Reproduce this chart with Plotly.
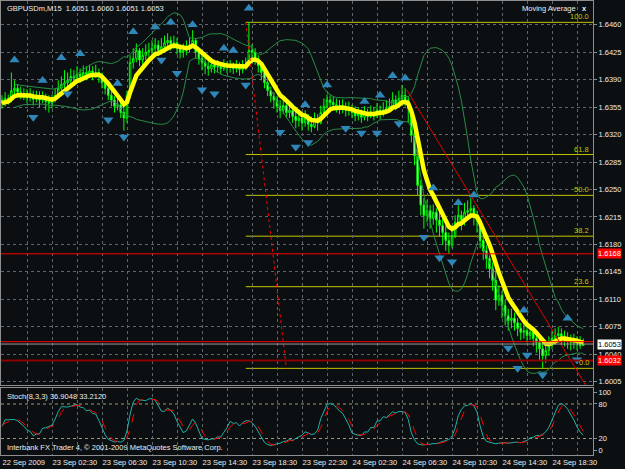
import pandas as pd
import plotly.graph_objects as go

# ---------------- data ----------------
BAR_START = "2009-09-22 22:30"
BAR_MINUTES = 15
FIRST_OPEN = 1.6364

CLOSE = [
    1.6360, 1.6366, 1.6364, 1.6376, 1.6379, 1.6374, 1.6370, 1.6372, 1.6367, 1.6370,
    1.6365, 1.6369, 1.6364, 1.6367, 1.6362, 1.6360, 1.6364, 1.6370, 1.6379, 1.6384,
    1.6386, 1.6389, 1.6394, 1.6392, 1.6397, 1.6394, 1.6399, 1.6397, 1.6401, 1.6398,
    1.6399, 1.6395, 1.6386, 1.6379, 1.6370, 1.6364, 1.6356, 1.6358, 1.6348, 1.6341,
    1.6370, 1.6412, 1.6417, 1.6427, 1.6415, 1.6421, 1.6425, 1.6427, 1.6430, 1.6434,
    1.6427, 1.6432, 1.6437, 1.6440, 1.6435, 1.6437, 1.6430, 1.6425, 1.6427, 1.6431,
    1.6434, 1.6440, 1.6425, 1.6417, 1.6412, 1.6407, 1.6404, 1.6409, 1.6406, 1.6407,
    1.6404, 1.6408, 1.6406, 1.6407, 1.6404, 1.6407, 1.6403, 1.6406, 1.6409, 1.6427,
    1.6425, 1.6417, 1.6408, 1.6399, 1.6386, 1.6376, 1.6369, 1.6364, 1.6356, 1.6351,
    1.6357, 1.6348, 1.6351, 1.6343, 1.6338, 1.6341, 1.6335, 1.6341, 1.6333, 1.6330,
    1.6338, 1.6335, 1.6348, 1.6356, 1.6364, 1.6361, 1.6358, 1.6357, 1.6353, 1.6356,
    1.6351, 1.6353, 1.6348, 1.6344, 1.6346, 1.6342, 1.6347, 1.6343, 1.6348, 1.6344,
    1.6351, 1.6347, 1.6351, 1.6353, 1.6356, 1.6364, 1.6358, 1.6366, 1.6370, 1.6364,
    1.6353, 1.6319, 1.6293, 1.6255, 1.6230, 1.6217, 1.6223, 1.6213, 1.6221, 1.6211,
    1.6204, 1.6195, 1.6185, 1.6179, 1.6191, 1.6208, 1.6217, 1.6211, 1.6221, 1.6223,
    1.6226, 1.6217, 1.6211, 1.6185, 1.6172, 1.6162, 1.6149, 1.6134, 1.6109, 1.6115,
    1.6102, 1.6089, 1.6083, 1.6086, 1.6080, 1.6073, 1.6068, 1.6070, 1.6064, 1.6068,
    1.6060, 1.6055, 1.6047, 1.6038, 1.6045, 1.6051, 1.6060, 1.6064, 1.6066, 1.6063,
    1.6060, 1.6058, 1.6055, 1.6058, 1.6054, 1.6051, 1.6053,
]
HIGH = [
    1.6370, 1.6374, 1.6371, 1.6399, 1.6389, 1.6384, 1.6381, 1.6379, 1.6378, 1.6379,
    1.6376, 1.6376, 1.6375, 1.6375, 1.6372, 1.6370, 1.6371, 1.6379, 1.6389, 1.6394,
    1.6402, 1.6399, 1.6404, 1.6402, 1.6407, 1.6404, 1.6408, 1.6407, 1.6409, 1.6407,
    1.6409, 1.6404, 1.6399, 1.6392, 1.6384, 1.6376, 1.6369, 1.6367, 1.6364, 1.6356,
    1.6376, 1.6421, 1.6430, 1.6436, 1.6430, 1.6430, 1.6435, 1.6437, 1.6440, 1.6443,
    1.6440, 1.6443, 1.6446, 1.6449, 1.6445, 1.6446, 1.6443, 1.6435, 1.6436, 1.6440,
    1.6443, 1.6453, 1.6443, 1.6430, 1.6422, 1.6418, 1.6415, 1.6417, 1.6415, 1.6415,
    1.6412, 1.6416, 1.6413, 1.6415, 1.6412, 1.6415, 1.6412, 1.6415, 1.6418, 1.6463,
    1.6435, 1.6430, 1.6421, 1.6412, 1.6402, 1.6389, 1.6381, 1.6374, 1.6369, 1.6364,
    1.6366, 1.6361, 1.6361, 1.6356, 1.6351, 1.6351, 1.6348, 1.6351, 1.6346, 1.6343,
    1.6348, 1.6346, 1.6357, 1.6366, 1.6371, 1.6370, 1.6369, 1.6366, 1.6364, 1.6365,
    1.6361, 1.6362, 1.6358, 1.6356, 1.6355, 1.6352, 1.6356, 1.6353, 1.6357, 1.6355,
    1.6360, 1.6357, 1.6361, 1.6364, 1.6366, 1.6374, 1.6370, 1.6376, 1.6383, 1.6379,
    1.6369, 1.6356, 1.6325, 1.6300, 1.6262, 1.6239, 1.6236, 1.6230, 1.6231, 1.6226,
    1.6221, 1.6213, 1.6204, 1.6195, 1.6204, 1.6217, 1.6230, 1.6223, 1.6233, 1.6236,
    1.6239, 1.6230, 1.6223, 1.6213, 1.6190, 1.6179, 1.6166, 1.6157, 1.6147, 1.6128,
    1.6121, 1.6109, 1.6098, 1.6098, 1.6093, 1.6086, 1.6080, 1.6080, 1.6077, 1.6078,
    1.6073, 1.6068, 1.6063, 1.6058, 1.6058, 1.6063, 1.6070, 1.6073, 1.6075, 1.6073,
    1.6070, 1.6068, 1.6065, 1.6066, 1.6063, 1.6063, 1.6060,
]
LOW = [
    1.6353, 1.6356, 1.6358, 1.6361, 1.6370, 1.6367, 1.6365, 1.6364, 1.6360, 1.6362,
    1.6357, 1.6361, 1.6355, 1.6360, 1.6351, 1.6348, 1.6353, 1.6361, 1.6366, 1.6374,
    1.6379, 1.6381, 1.6384, 1.6385, 1.6389, 1.6386, 1.6390, 1.6389, 1.6392, 1.6389,
    1.6392, 1.6386, 1.6379, 1.6371, 1.6364, 1.6356, 1.6348, 1.6351, 1.6341, 1.6325,
    1.6335, 1.6366, 1.6404, 1.6412, 1.6407, 1.6409, 1.6415, 1.6418, 1.6421, 1.6423,
    1.6420, 1.6422, 1.6427, 1.6430, 1.6427, 1.6429, 1.6422, 1.6417, 1.6418, 1.6421,
    1.6425, 1.6430, 1.6417, 1.6409, 1.6402, 1.6397, 1.6395, 1.6399, 1.6398, 1.6399,
    1.6397, 1.6401, 1.6398, 1.6399, 1.6397, 1.6399, 1.6395, 1.6398, 1.6402, 1.6407,
    1.6415, 1.6409, 1.6399, 1.6389, 1.6379, 1.6369, 1.6361, 1.6353, 1.6348, 1.6341,
    1.6346, 1.6341, 1.6341, 1.6335, 1.6328, 1.6330, 1.6325, 1.6330, 1.6325, 1.6323,
    1.6328, 1.6325, 1.6333, 1.6346, 1.6353, 1.6351, 1.6351, 1.6348, 1.6346, 1.6347,
    1.6343, 1.6344, 1.6341, 1.6337, 1.6338, 1.6335, 1.6338, 1.6337, 1.6341, 1.6338,
    1.6341, 1.6339, 1.6343, 1.6346, 1.6348, 1.6353, 1.6351, 1.6356, 1.6361, 1.6356,
    1.6335, 1.6310, 1.6281, 1.6242, 1.6217, 1.6200, 1.6208, 1.6200, 1.6205, 1.6195,
    1.6190, 1.6179, 1.6172, 1.6168, 1.6175, 1.6188, 1.6204, 1.6198, 1.6204, 1.6211,
    1.6213, 1.6204, 1.6195, 1.6175, 1.6160, 1.6149, 1.6137, 1.6121, 1.6096, 1.6102,
    1.6086, 1.6077, 1.6070, 1.6073, 1.6070, 1.6063, 1.6058, 1.6060, 1.6055, 1.6058,
    1.6050, 1.6042, 1.6032, 1.6022, 1.6029, 1.6038, 1.6047, 1.6052, 1.6055, 1.6052,
    1.6050, 1.6047, 1.6045, 1.6047, 1.6045, 1.6047, 1.6051,
]

UP_FRACTAL_BAR = [4, 13, 19, 25, 37, 42, 49, 54, 61, 71, 74, 79, 97, 104, 116, 121,
                  125, 129, 138, 146, 151, 167, 181]
UP_FRACTAL_PRICE = [1.6415, 1.6389, 1.6418, 1.6423, 1.6385, 1.6451, 1.6457, 1.6463,
                    1.6460, 1.6430, 1.6427, 1.6481, 1.6358, 1.6383, 1.6362, 1.6370,
                    1.6395, 1.6392, 1.6252, 1.6233, 1.6243, 1.6096, 1.6086]
DN_FRACTAL_BAR = [10, 21, 34, 39, 51, 56, 64, 68, 78, 89, 94, 98, 110, 115, 120, 127,
                  135, 140, 144, 162, 165, 168, 173, 184]
DN_FRACTAL_PRICE = [1.6342, 1.6372, 1.6339, 1.6317, 1.6415, 1.6398, 1.6377, 1.6372,
                    1.6383, 1.6323, 1.6304, 1.6310, 1.6328, 1.6322, 1.6322, 1.6334,
                    1.6189, 1.6163, 1.6158, 1.6048, 1.6022, 1.6039, 1.6014, 1.6033]

FIB_BARS = [78, 91]
FIB_PRICES = [1.6463, 1.6022]
FIB_LEVELS = [0.0, 23.6, 38.2, 50.0, 61.8, 100.0]
TREND_BARS = [129.5, 187.0]
TREND_PRICES = [1.6377, 1.5999]
LEVEL_LINE = 1.6168
ASK = 1.6056
BID = 1.6053
ORDER_LINE = 1.6032

PRICE_TICKS = [1.6005, 1.6040, 1.6075, 1.6110, 1.6145, 1.6180, 1.6215, 1.6250,
               1.6285, 1.6320, 1.6355, 1.6390, 1.6425, 1.6460]
TIME_LABELS = ["22 Sep 2009", "23 Sep 02:30", "23 Sep 06:30", "23 Sep 10:30",
               "23 Sep 14:30", "23 Sep 18:30", "23 Sep 22:30", "24 Sep 02:30",
               "24 Sep 06:30", "24 Sep 10:30", "24 Sep 14:30", "24 Sep 18:30"]
STOCH_TICKS = [0, 20, 80, 100]
STOCH_LEVELS = [20, 80]

MA_SPAN = 7
BB_PERIOD, BB_DEV = 20, 2
K_PERIOD, SLOWING, D_PERIOD = 8, 3, 3

# ---------------- derived series ----------------
t0 = pd.Timestamp(BAR_START)


def bt(i):
    return t0 + pd.Timedelta(minutes=BAR_MINUTES * i)


n = len(CLOSE)
times = [bt(i) for i in range(n)]
OPEN = [FIRST_OPEN] + CLOSE[:-1]
c = pd.Series(CLOSE)
h = pd.Series(HIGH)
l = pd.Series(LOW)
ma = c.ewm(span=MA_SPAN, adjust=False).mean()
mid = c.rolling(BB_PERIOD, min_periods=5).mean()
sd = c.rolling(BB_PERIOD, min_periods=5).std(ddof=0)
bb_up = mid + BB_DEV * sd
bb_dn = mid - BB_DEV * sd
hh = h.rolling(K_PERIOD, min_periods=1).max()
ll = l.rolling(K_PERIOD, min_periods=1).min()
k = (c - ll).rolling(SLOWING, min_periods=1).sum() / (hh - ll).rolling(SLOWING, min_periods=1).sum() * 100
d = k.rolling(D_PERIOD, min_periods=1).mean()

# ---------------- style ----------------
BG = "#0b0f11"
GRID = "#5d666e"
GRID_DASH = "3px,3px"
FRAME = "#8e8e8e"
TXT = "#ececec"
FONT = "Liberation Sans, Arial"
FS = 7.5
FIBC = "#c4c400"

W, H = 625, 469
L_M, R_M, T_M, B_M = 1, 32, 1, 14
plot_h = H - T_M - B_M
main_dom = [(455 - 385) / plot_h, 1]
stoch_dom = [0, (455 - 388) / plot_h]
x_range = [bt(-0.32), bt(189.12)]
y_range = [1.60008, 1.64902]
s_range = [-8.7, 107.8]

grid_bars = list(range(0, 190, 8))
grid_times = [bt(i) for i in grid_bars]
grid_text = [TIME_LABELS[j // 2] if (j % 2 == 0 and j // 2 < len(TIME_LABELS)) else ""
             for j in range(len(grid_bars))]

fig = go.Figure()

# Bollinger bands
for band in (bb_up, bb_dn):
    fig.add_trace(go.Scatter(x=times, y=band, mode="lines", line=dict(color="#2a8a47", width=1),
                             hoverinfo="skip", xaxis="x", yaxis="y"))

fig.add_trace(go.Candlestick(
    x=times, open=OPEN, high=HIGH, low=LOW, close=CLOSE,
    increasing=dict(line=dict(color="#00ff00", width=1), fillcolor="#000000"),
    decreasing=dict(line=dict(color="#00ff00", width=1), fillcolor="#d8ffd8"),
    whiskerwidth=0, hoverinfo="skip", xaxis="x", yaxis="y"))

fig.add_trace(go.Scatter(x=times, y=ma, mode="lines", line=dict(color="#ffff00", width=4.5),
                         hoverinfo="skip", xaxis="x", yaxis="y"))

# fib base line (dotted) and trend line
fig.add_trace(go.Scatter(x=[bt(i) for i in FIB_BARS], y=FIB_PRICES, mode="lines",
                         line=dict(color="#ff0000", width=1, dash="dot"), hoverinfo="skip",
                         xaxis="x", yaxis="y"))
fig.add_trace(go.Scatter(x=[bt(i) for i in TREND_BARS], y=TREND_PRICES, mode="lines",
                         line=dict(color="#e00000", width=1), hoverinfo="skip",
                         xaxis="x", yaxis="y"))

# fractals
fig.add_trace(go.Scatter(x=[bt(i) for i in UP_FRACTAL_BAR], y=UP_FRACTAL_PRICE, mode="markers",
                         marker=dict(symbol="triangle-up", size=9, color="#2f86b8",
                                     line=dict(width=0)), hoverinfo="skip", xaxis="x", yaxis="y"))
fig.add_trace(go.Scatter(x=[bt(i) for i in DN_FRACTAL_BAR], y=DN_FRACTAL_PRICE, mode="markers",
                         marker=dict(symbol="triangle-down", size=9, color="#2f86b8",
                                     line=dict(width=0)), hoverinfo="skip", xaxis="x", yaxis="y"))

# stochastic
fig.add_trace(go.Scatter(x=times, y=k, mode="lines", line=dict(color="#20b2aa", width=1),
                         hoverinfo="skip", xaxis="x2", yaxis="y2"))
fig.add_trace(go.Scatter(x=times, y=d, mode="lines", line=dict(color="#ff0000", width=1, dash="dash"),
                         hoverinfo="skip", xaxis="x2", yaxis="y2"))

shapes = []
fib_lo, fib_hi = FIB_PRICES[1], FIB_PRICES[0]
annotations = []
for lv in FIB_LEVELS:
    p = fib_lo + (fib_hi - fib_lo) * lv / 100
    shapes.append(dict(type="line", xref="x", yref="y", x0=bt(FIB_BARS[0]), x1=x_range[1],
                       y0=p, y1=p, line=dict(color=FIBC, width=1), layer="below"))
    annotations.append(dict(xref="paper", yref="y", x=1, y=p, xanchor="right", yanchor="bottom",
                            xshift=-2, yshift=-1, text=f"{lv:.1f}", showarrow=False,
                            font=dict(family=FONT, size=FS, color=FIBC)))

for p, col, wd, dsh in [(LEVEL_LINE, "#ff0000", 1, "solid"), (ASK, "#ff0000", 1, "solid"),
                        (BID, "#9a9a9a", 1, "solid"), (ORDER_LINE, "#8b0000", 2, "solid")]:
    shapes.append(dict(type="line", xref="paper", yref="y", x0=0, x1=1, y0=p, y1=p,
                       line=dict(color=col, width=wd, dash=dsh)))

for lv in STOCH_LEVELS:
    shapes.append(dict(type="line", xref="paper", yref="y2", x0=0, x1=1, y0=lv, y1=lv,
                       line=dict(color="#9d9a78", width=1, dash=GRID_DASH), layer="below"))

for p, bg, fg in [(LEVEL_LINE, "#ff0000", "#ffffff"), (BID, "#ffffff", "#000000"),
                  (ORDER_LINE, "#ff0000", "#ffffff")]:
    annotations.append(dict(xref="paper", yref="y", x=1, y=p, xanchor="left", yanchor="middle",
                            xshift=4, text=f"{p:.4f}", showarrow=False, bgcolor=bg, borderpad=0,
                            font=dict(family=FONT, size=FS, color=fg)))

annotations += [
    dict(xref="paper", yref="paper", x=0, y=1, xanchor="left", yanchor="top", xshift=4, yshift=-1,
         text="GBPUSDm,M15\u00a0 1.6051 1.6060 1.6051 1.6053", showarrow=False,
         font=dict(family=FONT, size=FS, color=TXT)),
    dict(xref="paper", yref="paper", x=1, y=1, xanchor="right", yanchor="top", xshift=-15, yshift=-1,
         text="Moving Average", showarrow=False, font=dict(family=FONT, size=FS, color=TXT)),
    dict(xref="paper", yref="paper", x=1, y=1, xanchor="right", yanchor="top", xshift=-4, yshift=-1,
         text="<b>x</b>", showarrow=False, font=dict(family=FONT, size=FS, color=TXT)),
    dict(xref="paper", yref="paper", x=0, y=stoch_dom[1], xanchor="left", yanchor="top", xshift=4,
         yshift=-2, text="Stoch(8,3,3) 36.9048 33.2120", showarrow=False,
         font=dict(family=FONT, size=FS, color=TXT)),
    dict(xref="paper", yref="paper", x=0, y=0, xanchor="left", yanchor="bottom", xshift=4, yshift=1,
         text="Interbank FX Trader 4, \u00a9 2001-2009 MetaQuotes Software Corp.", showarrow=False,
         font=dict(family=FONT, size=FS, color=TXT)),
]

axis_common = dict(showline=True, mirror=True, linecolor=FRAME, linewidth=1, zeroline=False,
                   automargin=False)
fig.update_layout(
    width=W, height=H, margin=dict(l=L_M, r=R_M, t=T_M, b=B_M, autoexpand=False),
    paper_bgcolor=BG, plot_bgcolor=BG, showlegend=False,
    font=dict(family=FONT, size=FS, color=TXT),
    xaxis=dict(domain=[0, 1], anchor="y", range=x_range, type="date", tickvals=grid_times,
               showticklabels=False, ticks="", showgrid=True, gridcolor=GRID, griddash=GRID_DASH,
               gridwidth=1, rangeslider=dict(visible=False), **axis_common),
    xaxis2=dict(domain=[0, 1], anchor="y2", range=x_range, type="date", matches="x",
                tickvals=grid_times, ticktext=grid_text, ticks="", tickangle=0,
                ticklabelposition="outside right", ticklabelstandoff=0,
                tickfont=dict(family=FONT, size=FS, color=TXT), showgrid=True, gridcolor=GRID,
                griddash=GRID_DASH, gridwidth=1, **axis_common),
    yaxis=dict(domain=main_dom, anchor="x", range=y_range, side="right", tickvals=PRICE_TICKS,
               tickformat=".4f", ticks="outside", ticklen=3, tickcolor=FRAME,
               tickfont=dict(family=FONT, size=FS, color=TXT), showgrid=True, gridcolor=GRID,
               griddash=GRID_DASH, gridwidth=1, **axis_common),
    yaxis2=dict(domain=stoch_dom, anchor="x2", range=s_range, side="right", tickvals=STOCH_TICKS,
                ticks="outside", ticklen=3, tickcolor=FRAME,
                tickfont=dict(family=FONT, size=FS, color=TXT), showgrid=False, **axis_common),
    shapes=shapes, annotations=annotations,
)

fig.write_html("out.html")
